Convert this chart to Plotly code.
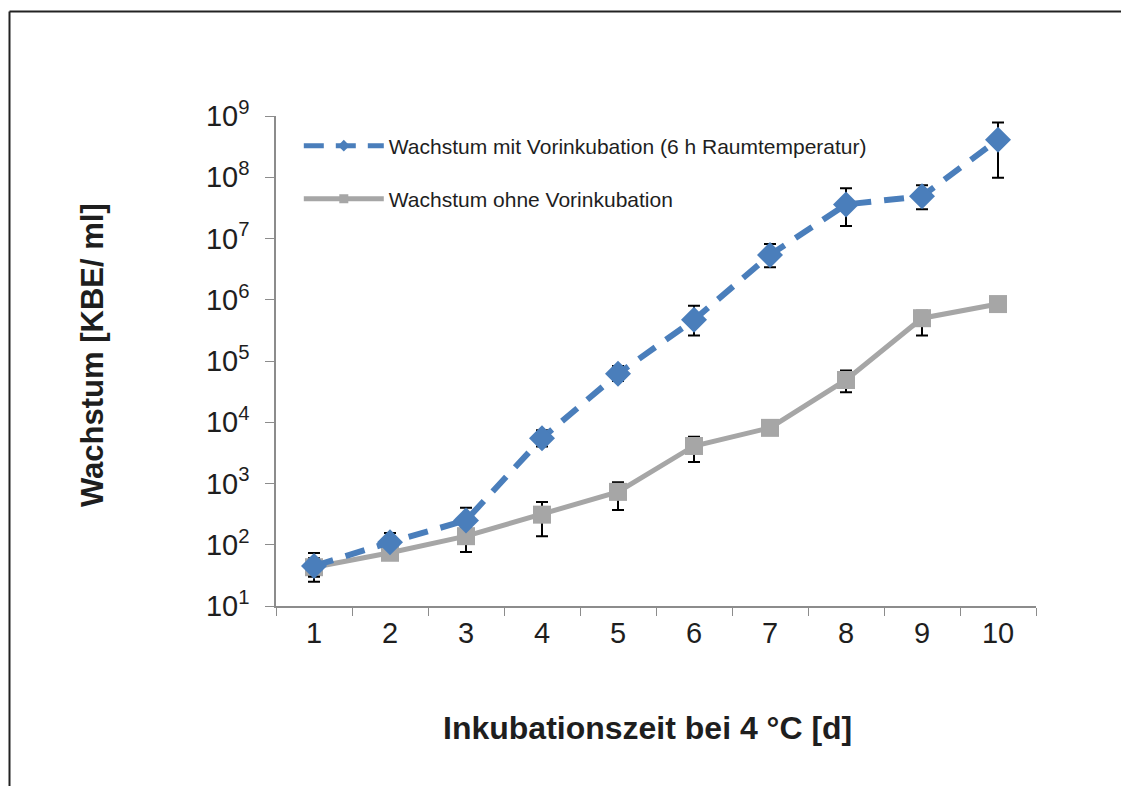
import plotly.graph_objects as go

days = ["1", "2", "3", "4", "5", "6", "7", "8", "9", "10"]

mit_name = "Wachstum mit Vorinkubation (6 h Raumtemperatur)"
mit_vals = [45, 110, 250, 5500, 62000, 4.7e5, 5.4e6, 3.6e7, 4.9e7, 4.1e8]
mit_upper = [73, 155, 400, 7400, 83000, 8.0e5, 8.1e6, 6.6e7, 7.4e7, 7.8e8]
mit_lower = [30, 90, 200, 4000, 47000, 2.6e5, 3.4e6, 1.6e7, 3.0e7, 9.8e7]

ohne_name = "Wachstum ohne Vorinkubation"
ohne_vals = [43, 74, 138, 310, 730, 4100, 8100, 49000, 5.0e5, 8.5e5]
ohne_upper = [60, 85, 203, 500, 1050, 5800, 9000, 70000, 6.6e5, 9.2e5]
ohne_lower = [25, 62, 76, 138, 370, 2250, 7200, 31000, 2.6e5, 7.8e5]

y_tickvals = [10 ** k for k in range(1, 10)]
y_ticktext = [f"10<sup>{k}</sup>" for k in range(1, 10)]

x_title = "Inkubationszeit bei 4 °C [d]"
y_title = "Wachstum [KBE/ ml]"


def up(v, u):
    return [a - b for a, b in zip(u, v)]


def dn(v, l):
    return [b - a for a, b in zip(l, v)]


FONT = "Liberation Sans, Arial, sans-serif"
TXT = "#1E1E1E"
BLUE = "#4A7EBB"
GRAY = "#A6A6A6"
DASH = "20px,13px"

# page is offset by the 8px body margin; layout numbers below are figure px
L, T, PW, PH = 268, 108, 760, 490
W, H = 1113, 778

fig = go.Figure()
fig.add_trace(go.Scatter(
    x=days, y=ohne_vals, name=ohne_name, mode="lines+markers",
    line=dict(color=GRAY, width=5),
    marker=dict(symbol="square", size=18, color=GRAY),
    error_y=dict(type="data", array=up(ohne_vals, ohne_upper),
                 arrayminus=dn(ohne_vals, ohne_lower),
                 color="#000000", thickness=2, width=6),
    showlegend=False,
))
fig.add_trace(go.Scatter(
    x=days, y=mit_vals, name=mit_name, mode="lines+markers",
    line=dict(color=BLUE, width=6, dash=DASH),
    marker=dict(symbol="diamond", size=20, color=BLUE),
    error_y=dict(type="data", array=up(mit_vals, mit_upper),
                 arrayminus=dn(mit_vals, mit_lower),
                 color="#000000", thickness=2, width=6),
    showlegend=False,
))
# legend entries (smaller markers as in the reference legend)
fig.add_trace(go.Scatter(
    x=[None], y=[None], name=mit_name, mode="lines+markers",
    line=dict(color=BLUE, width=5, dash="20px,12px"),
    marker=dict(symbol="diamond", size=9, color=BLUE),
    legend="legend", showlegend=True,
))
fig.add_trace(go.Scatter(
    x=[None], y=[None], name=ohne_name, mode="lines+markers",
    line=dict(color=GRAY, width=5),
    marker=dict(symbol="square", size=9, color=GRAY),
    legend="legend2", showlegend=True,
))


def px_x(x):
    return (x - L) / PW


def px_y(y):
    return (T + PH - y) / PH


# outer frame lines (top and left)
fig.add_shape(type="line", xref="paper", yref="paper",
              x0=px_x(1.5), x1=px_x(W + 20), y0=px_y(3.5), y1=px_y(3.5),
              line=dict(color="#222222", width=2))
fig.add_shape(type="line", xref="paper", yref="paper",
              x0=px_x(1.5), x1=px_x(1.5), y0=px_y(3.5), y1=px_y(H + 20),
              line=dict(color="#222222", width=2))

fig.add_annotation(text=f"<b>{y_title}</b>", xref="paper", yref="paper",
                   x=px_x(84), y=px_y(347), xanchor="center", yanchor="middle",
                   textangle=-90, showarrow=False,
                   font=dict(size=31, family=FONT, color=TXT))
fig.add_annotation(text=f"<b>{x_title}</b>", xref="paper", yref="paper",
                   x=px_x(639), y=px_y(720), xanchor="center", yanchor="middle",
                   showarrow=False,
                   font=dict(size=32, family=FONT, color=TXT))

legend_common = dict(xanchor="left", yanchor="middle",
                     font=dict(size=21, family=FONT, color=TXT),
                     itemwidth=80, bgcolor="rgba(0,0,0,0)")

fig.update_layout(
    width=W, height=H,
    margin=dict(l=L, r=W - L - PW, t=T, b=H - T - PH, autoexpand=False),
    paper_bgcolor="white", plot_bgcolor="white",
    font=dict(family=FONT, color=TXT),
    showlegend=True,
    legend=dict(x=0.03, y=px_y(138), **legend_common),
    legend2=dict(x=0.03, y=px_y(191), **legend_common),
    xaxis=dict(
        type="category", tickson="boundaries", showgrid=False,
        range=[-0.5, 9.5],
        showline=True, linecolor="#8C8C8C", linewidth=1.5,
        ticks="outside", ticklen=8, tickcolor="#8C8C8C",
        tickfont=dict(size=29, family=FONT, color=TXT),
        zeroline=False,
    ),
    yaxis=dict(
        type="log", range=[1, 9], showgrid=False,
        showline=True, linecolor="#8C8C8C", linewidth=1.5,
        ticks="outside", ticklen=9, tickcolor="#8C8C8C",
        tickvals=y_tickvals, ticktext=y_ticktext,
        tickfont=dict(size=29, family=FONT, color=TXT),
        ticklabelstandoff=10,
        zeroline=False,
    ),
)

fig.write_html("out.html")
